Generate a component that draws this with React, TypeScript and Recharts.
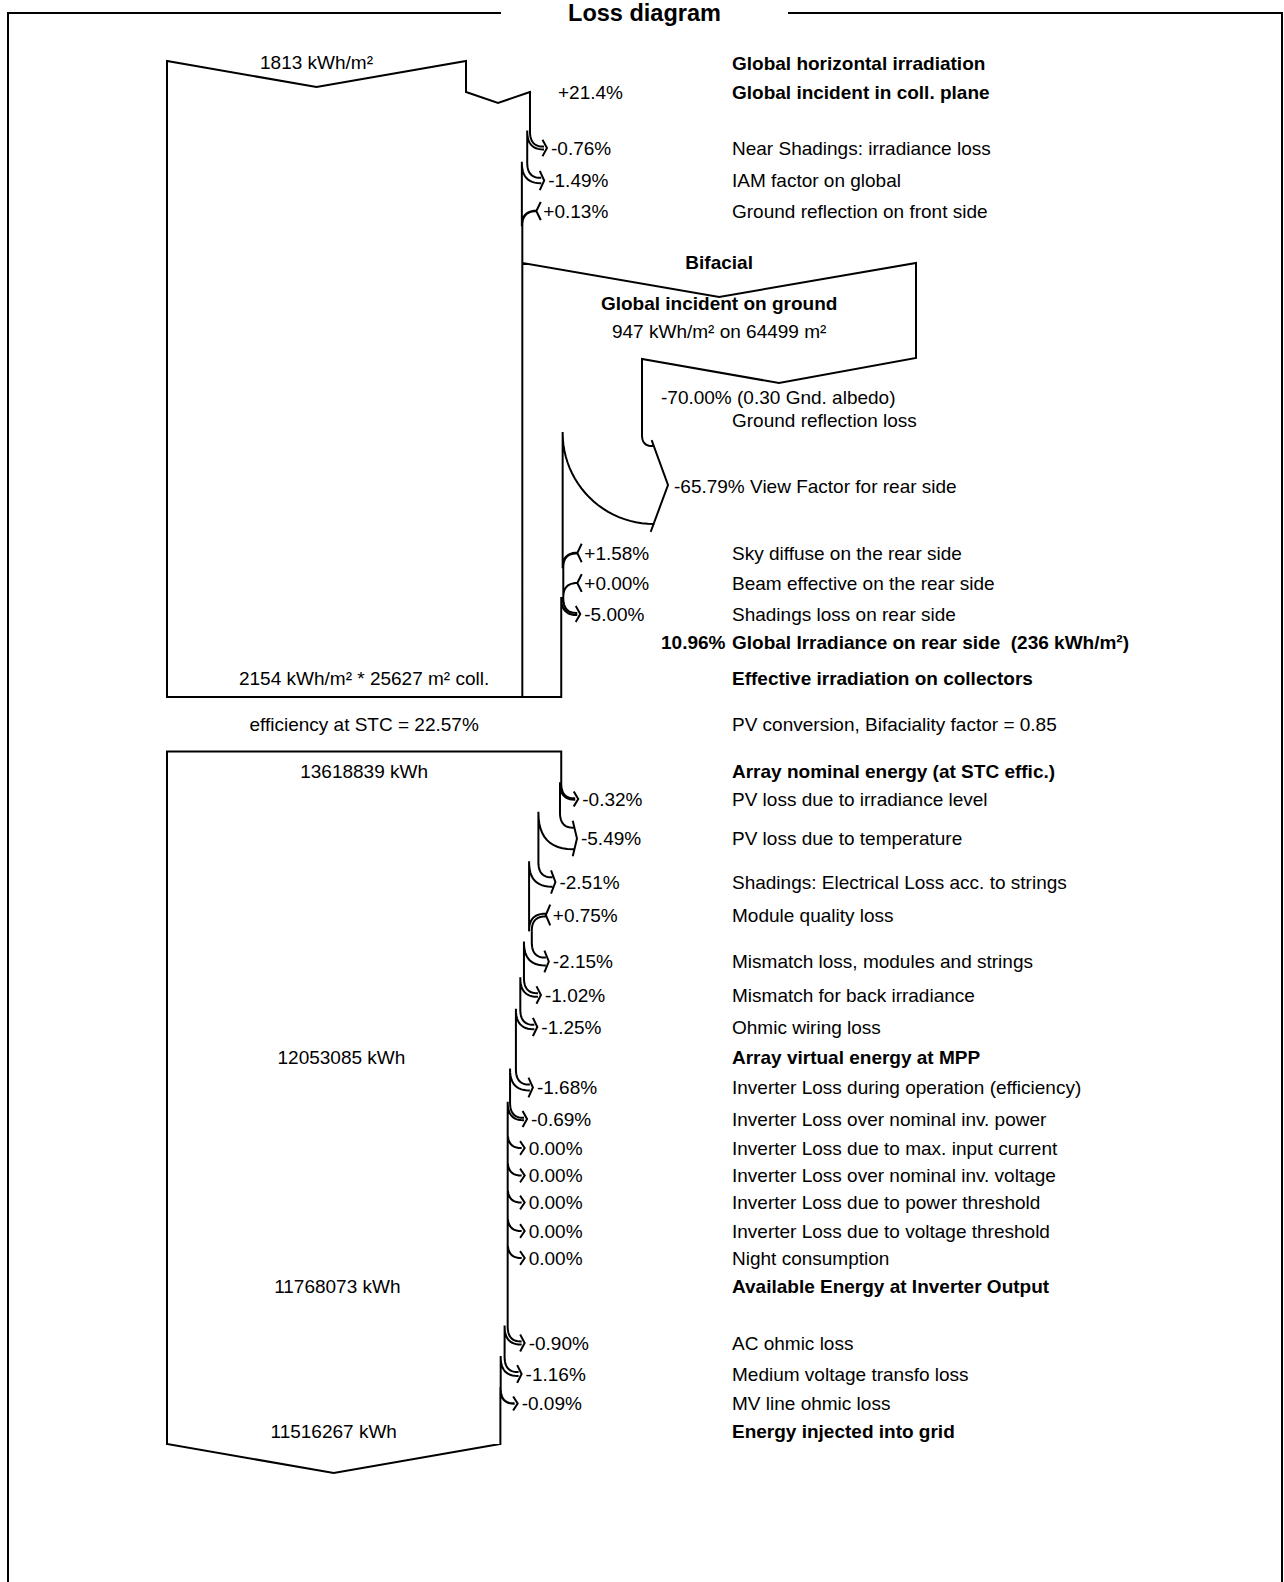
import React from "react";
import { ComposedChart, Line, Scatter, XAxis, YAxis } from "recharts";

// ---- values ----
const ghi = 1813; // kWh/m²
const transpositionGain = 21.4;
const frontNames = ["Near Shadings: irradiance loss", "IAM factor on global", "Ground reflection on front side"];
const frontPct = [-0.76, -1.49, 0.13];
const groundIrradiance = 947;
const groundArea = 64499;
const albedo = 0.3;
const groundReflectionLoss = -70.0;
const viewFactorLoss = -65.79;
const rearNames = ["Sky diffuse on the rear side", "Beam effective on the rear side", "Shadings loss on rear side"];
const rearPct = [1.58, 0.0, -5.0];
const rearShare = 10.96;
const rearIrradiance = 236;
const effectiveIrradiation = 2154;
const collectorArea = 25627;
const stcEfficiency = 22.57;
const bifacialityFactor = 0.85;

const nominalEnergy = 13618839; // kWh
const arrayNames = [
    "PV loss due to irradiance level",
    "PV loss due to temperature",
    "Shadings: Electrical Loss acc. to strings",
    "Module quality loss",
    "Mismatch loss, modules and strings",
    "Mismatch for back irradiance",
    "Ohmic wiring loss",
];
const arrayPct = [-0.32, -5.49, -2.51, 0.75, -2.15, -1.02, -1.25];
const mppEnergy = 12053085;
const inverterNames = [
    "Inverter Loss during operation (efficiency)",
    "Inverter Loss over nominal inv. power",
    "Inverter Loss due to max. input current",
    "Inverter Loss over nominal inv. voltage",
    "Inverter Loss due to power threshold",
    "Inverter Loss due to voltage threshold",
    "Night consumption",
];
const inverterPct = [-1.68, -0.69, 0.0, 0.0, 0.0, 0.0, 0.0];
const inverterOutput = 11768073;
const gridNames = ["AC ohmic loss", "Medium voltage transfo loss", "MV line ohmic loss"];
const gridPct = [-0.9, -1.16, -0.09];
const gridEnergy = 11516267;

// ---- layout (chart units = pixels) ----
const W = 1284;
const H = 1582;
const FONT = "'Liberation Sans', Arial, sans-serif";
const FS = 19;
const BAR_LEFT = 167;
const GHI_WIDTH = 299;
const TEXT_X = 732;
const frontRowY = [148, 180.5, 211];
const rearRowY = [553, 583, 614];
const arrayRowY = [799, 838.5, 882, 915, 961.5, 995, 1027];
const inverterRowY = [1087.5, 1119, 1148, 1175.5, 1202.5, 1231, 1258];
const gridRowY = [1343, 1374, 1403.5];

type Pt = [number, number];
interface Label { x: number; y: number; text: string; anchor: string; bold: boolean; size: number }

const strokes: { x: number | null; y: number | null }[] = [];
const labels: Label[] = [];

const path = (pts: Pt[]) => {
    pts.forEach(([x, y]) => strokes.push({ x, y }));
    strokes.push({ x: null, y: null });
};
const bez = (a: Pt, c: Pt, b: Pt, n = 12): Pt[] => {
    const out: Pt[] = [];
    for (let i = 0; i <= n; i++) {
        const t = i / n;
        const u = 1 - t;
        out.push([u * u * a[0] + 2 * u * t * c[0] + t * t * b[0], u * u * a[1] + 2 * u * t * c[1] + t * t * b[1]]);
    }
    return out;
};
const label = (x: number, y: number, text: string, bold = false, anchor = "start", size = FS) =>
    labels.push({ x, y, text, anchor, bold, size });

const fmt = (p: number, plusZero: boolean) =>
    p > 0 || (p === 0 && plusZero) ? `+${p.toFixed(2)}%` : `${p.toFixed(2)}%`;

// walks a column edge through its losses / gains, drawing the hooks
function flow(origin: number, s: number, v: number, yStart: number, pcts: number[], rows: number[], plusZero = false) {
    let y = yStart;
    pcts.forEach((p, i) => {
        const xo = origin + v * s;
        const v2 = v * (1 + p / 100);
        const xn = origin + v2 * s;
        const L = rows[i];
        const gain = p > 0 || (p === 0 && plusZero);
        if (!gain) {
            const w = xo - xn;
            const y0 = L - 15 - w / 2;
            path([[xo, y], [xo, y0]]);
            path(bez([xo, y0], [xo, y0 + 15], [xo + 13, y0 + 15]));
            path(bez([xn, y0], [xn, y0 + 15 + w], [xo + 13, y0 + 15 + w]));
            path([[xo + 13, y0 + 9], [xo + 17, L], [xo + 13, y0 + 21 + w]]);
            label(xo + 21, L, fmt(p, plusZero));
            y = y0;
        } else {
            const w = xn - xo;
            const y0 = L + 14 + w / 2;
            path([[xo, y], [xo, y0]]);
            path(bez([xo, y0], [xo, y0 - 14 - w], [xn + 14, y0 - 14 - w]));
            path(bez([xn, y0], [xn, y0 - 14], [xn + 14, y0 - 14]));
            path([[xn + 18, L - w / 2 - 8], [xn + 14, L], [xn + 18, L + w / 2 + 8]]);
            label(xn + 21, L, fmt(p, plusZero));
            y = y0;
        }
        v = v2;
    });
    return { v, y, x: origin + v * s };
}

// frame + title
path([[500, 13], [8, 13], [8, H]]);
path([[789, 13], [1282, 13], [1282, H]]);
label(644.5, 13, "Loss diagram", true, "middle", 23.5);

// ---- upper part: irradiation ----
const s1 = GHI_WIDTH / ghi;
const xGhi = BAR_LEFT + ghi * s1;
const gii = ghi * (1 + transpositionGain / 100);
const xGii = BAR_LEFT + gii * s1;
path([[BAR_LEFT, 697], [BAR_LEFT, 61], [(BAR_LEFT + xGhi) / 2, 87], [xGhi, 61], [xGhi, 92], [(xGhi + xGii) / 2, 103], [xGii, 92]]);
label((BAR_LEFT + xGhi) / 2, 62, `${ghi} kWh/m²`, false, "middle");
label(xGii + 28, 92, `+${transpositionGain.toFixed(1)}%`);
label(TEXT_X, 63.5, "Global horizontal irradiation", true);
label(TEXT_X, 92, "Global incident in coll. plane", true);

const front = flow(BAR_LEFT, s1, gii, 92, frontPct, frontRowY);
frontNames.forEach((n, i) => label(TEXT_X, frontRowY[i], n));
const xFront = front.x;
path([[xFront, front.y], [xFront, 697]]);

// bifacial: ground box and view factor
const bifRight = 916;
const groundLeft = 642;
path([[xFront, 263], [(xFront + bifRight) / 2, 297], [bifRight, 263], [bifRight, 358], [(bifRight + groundLeft) / 2, 383], [groundLeft, 359], [groundLeft, 435]]);
path(bez([groundLeft, 435], [groundLeft, 446], [groundLeft + 10, 446]));
path([[652, 441], [668, 485], [651, 531]]);
label((xFront + bifRight) / 2, 262, "Bifacial", true, "middle");
label((xFront + bifRight) / 2, 303.5, "Global incident on ground", true, "middle");
label((xFront + bifRight) / 2, 331, `${groundIrradiance} kWh/m² on ${groundArea} m²`, false, "middle");
label(661, 397.5, `${groundReflectionLoss.toFixed(2)}% (${albedo.toFixed(2)} Gnd. albedo)`);
label(TEXT_X, 420, "Ground reflection loss");
label(674, 486, `${viewFactorLoss.toFixed(2)}% View Factor for rear side`);

const rearStart = rearIrradiance / rearPct.reduce((a, p) => a * (1 + p / 100), 1);
const xRear0 = xFront + rearStart * s1;
const arc: Pt[] = [];
for (let i = 0; i <= 24; i++) {
    const t = (i / 24) * (Math.PI / 2);
    arc.push([xRear0 + 91 - 91 * Math.cos(t), 433 + 91 * Math.sin(t)]);
}
path(arc);
const rear = flow(xFront, s1, rearStart, 433, rearPct, rearRowY, true);
rearNames.forEach((n, i) => label(TEXT_X, rearRowY[i], n));
const xRearEnd = xFront + rearIrradiance * s1;
path([[rear.x, rear.y], [rear.x, 697]]);
path([[BAR_LEFT, 697], [xRearEnd, 697]]);
label(661, 642.5, `${rearShare.toFixed(2)}%`, true);
label(TEXT_X, 642.5, `Global Irradiance on rear side  (${rearIrradiance} kWh/m²)`, true);
label((BAR_LEFT + xRearEnd) / 2, 678, `${effectiveIrradiation} kWh/m² * ${collectorArea} m² coll.`, false, "middle");
label(TEXT_X, 678, "Effective irradiation on collectors", true);
label((BAR_LEFT + xRearEnd) / 2, 724.5, `efficiency at STC = ${stcEfficiency.toFixed(2)}%`, false, "middle");
label(TEXT_X, 724.5, `PV conversion, Bifaciality factor = ${bifacialityFactor.toFixed(2)}`);

// ---- lower part: energy ----
const s2 = (xRearEnd - BAR_LEFT) / nominalEnergy;
const xNom = BAR_LEFT + nominalEnergy * s2;
path([[xNom, 751.5], [BAR_LEFT, 751.5], [BAR_LEFT, 1444]]);
label((BAR_LEFT + xNom) / 2, 771.5, `${nominalEnergy} kWh`, false, "middle");
label(TEXT_X, 771.5, "Array nominal energy (at STC effic.)", true);

const arr = flow(BAR_LEFT, s2, nominalEnergy, 751.5, arrayPct, arrayRowY);
arrayNames.forEach((n, i) => label(TEXT_X, arrayRowY[i], n));
const xMpp = BAR_LEFT + mppEnergy * s2;
label((BAR_LEFT + xMpp) / 2, 1057, `${mppEnergy} kWh`, false, "middle");
label(TEXT_X, 1057, "Array virtual energy at MPP", true);

const inv = flow(BAR_LEFT, s2, mppEnergy, arr.y, inverterPct, inverterRowY);
inverterNames.forEach((n, i) => label(TEXT_X, inverterRowY[i], n));
const xInv = BAR_LEFT + inverterOutput * s2;
label((BAR_LEFT + xInv) / 2, 1286, `${inverterOutput} kWh`, false, "middle");
label(TEXT_X, 1286, "Available Energy at Inverter Output", true);

const grid = flow(BAR_LEFT, s2, inverterOutput, inv.y, gridPct, gridRowY);
gridNames.forEach((n, i) => label(TEXT_X, gridRowY[i], n));
const xGrid = BAR_LEFT + gridEnergy * s2;
path([[grid.x, grid.y], [grid.x, 1444]]);
path([[BAR_LEFT, 1444], [(BAR_LEFT + xGrid) / 2, 1473], [xGrid, 1444]]);
label((BAR_LEFT + xGrid) / 2, 1431.5, `${gridEnergy} kWh`, false, "middle");
label(TEXT_X, 1431.5, "Energy injected into grid", true);

const LabelShape = (props: any) => {
    const { cx, cy, payload } = props;
    return (
        <text
            x={cx}
            y={cy}
            textAnchor={payload.anchor}
            dominantBaseline="central"
            fontSize={payload.size}
            fontWeight={payload.bold ? 700 : 400}
            fontFamily={FONT}
            fill="#000"
            style={{ whiteSpace: "pre" }}
        >
            {payload.text}
        </text>
    );
};

const App: React.FC = () => {
    return (
        <div style={{ position: "absolute", left: 0, top: 0, width: W, height: H, background: "#fff" }}>
            <ComposedChart width={W} height={H} margin={{ top: 0, right: 0, bottom: 0, left: 0 }}>
                <XAxis type="number" dataKey="x" domain={[0, W]} hide allowDataOverflow />
                <YAxis type="number" dataKey="y" domain={[0, H]} reversed hide allowDataOverflow />
                <Line
                    data={strokes}
                    dataKey="y"
                    stroke="#000"
                    strokeWidth={2}
                    strokeLinecap="square"
                    dot={false}
                    activeDot={false}
                    connectNulls={false}
                    isAnimationActive={false}
                />
                <Scatter data={labels} shape={LabelShape} isAnimationActive={false} />
            </ComposedChart>
        </div>
    );
};

export default App;
